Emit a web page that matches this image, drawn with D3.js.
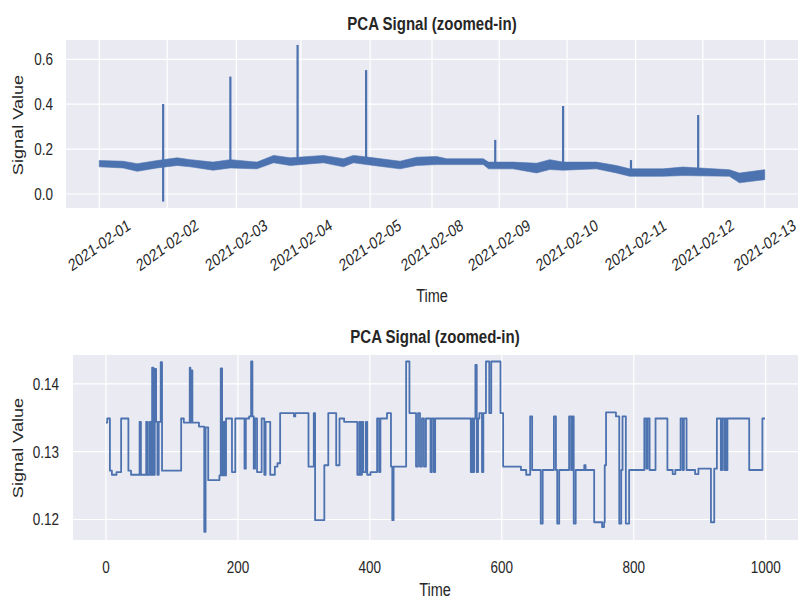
<!DOCTYPE html>
<html>
<head>
<meta charset="utf-8">
<title>PCA Signal</title>
<script src="https://cdn.jsdelivr.net/npm/d3@7"></script>
<style>
body { margin:0; background:#fff; }
svg { display:block; font-family:"Liberation Sans", Arial, sans-serif; }
.bg { fill:#eaeaf2; }
.grid line { stroke:#fff; stroke-width:1.2; }
.tick-label { fill:#262626; font-size:13.5px; }
.ax-label { fill:#262626; font-size:14.5px; }
.title { fill:#262626; font-size:15px; font-weight:bold; }
</style>
</head>
<body>
<svg id="chart" width="798" height="599"></svg>
<script>
// ---- top panel : whole period (sample index, dates on ticks)
var dayTicks = [0, 102, 206, 303, 407, 500, 601, 703, 806, 907, 1000];
var dayLabels = ["2021-02-01","2021-02-02","2021-02-03","2021-02-04","2021-02-05",
                 "2021-02-08","2021-02-09","2021-02-10","2021-02-11","2021-02-12","2021-02-13"];
var topYTicks = [0, 0.2, 0.4, 0.6];

// the dense signal, read as its upper / lower envelope
var bandX  = [0, 36, 57, 87, 117, 137, 171, 197, 237, 262, 287, 337, 367, 382, 412, 452, 477,
              507, 522, 577, 585, 622, 657, 677, 697, 747, 777, 797, 847, 877, 947, 962, 1000];
var bandHi = [0.149, 0.146, 0.135, 0.149, 0.161, 0.153, 0.142, 0.153, 0.142, 0.172, 0.161, 0.172,
              0.157, 0.172, 0.161, 0.146, 0.164, 0.167, 0.157, 0.157, 0.142, 0.142, 0.137, 0.153,
              0.142, 0.142, 0.127, 0.112, 0.112, 0.120, 0.108, 0.093, 0.108];
var bandLo = [0.121, 0.116, 0.101, 0.116, 0.127, 0.121, 0.106, 0.116, 0.112, 0.139, 0.127, 0.139,
              0.121, 0.139, 0.127, 0.112, 0.127, 0.131, 0.131, 0.131, 0.112, 0.112, 0.094, 0.109,
              0.106, 0.112, 0.094, 0.079, 0.079, 0.082, 0.079, 0.050, 0.064];

// spikes
var spikeX   = [96, 197, 298, 401, 595, 697, 799, 900];
var spikeTop = [0.401, 0.523, 0.664, 0.552, 0.241, 0.392, 0.151, 0.352];
var spikeBot = [-0.034, 0.13, 0.14, 0.14, 0.125, 0.12, 0.10, 0.095];

// ---- bottom panel : first 1000 samples (step changes)
var stepIdx = [0, 2, 6, 9, 16, 23, 34, 38, 51, 53, 61, 63, 66, 68, 70, 72, 74, 76, 78, 80, 83, 85,
  114, 118, 127, 128, 130, 131, 141, 149, 151, 155, 172, 174, 176, 178, 180, 182, 191, 196, 210, 212,
  217, 220, 222, 224, 226, 229, 236, 240, 242, 249, 256, 260, 264, 285, 287, 307, 315, 317, 331, 337,
  349, 354, 361, 381, 384, 386, 388, 390, 394, 396, 401, 411, 414, 416, 426, 432, 434, 436, 455, 460,
  470, 473, 476, 479, 482, 485, 492, 494, 497, 499, 553, 555, 556, 558, 560, 562, 564, 566, 570, 572,
  576, 581, 584, 598, 602, 629, 637, 643, 646, 659, 662, 679, 682, 684, 687, 702, 705, 707, 709, 712,
  725, 727, 740, 752, 755, 756, 758, 773, 778, 781, 783, 788, 793, 816, 819, 821, 824, 833, 851, 859,
  863, 871, 874, 876, 880, 893, 898, 917, 922, 926, 932, 934, 937, 939, 940, 942, 975, 995];
var stepVal = [0.1343, 0.1349, 0.1272, 0.1266, 0.1270, 0.1349, 0.1272, 0.1266, 0.1344, 0.1266, 0.1344,
  0.1266, 0.1344, 0.1266, 0.1424, 0.1266, 0.1422, 0.1344, 0.1266, 0.1344, 0.1432, 0.1272,
  0.1349, 0.1343, 0.1424, 0.1343, 0.1420, 0.1343, 0.1337, 0.1182, 0.1336, 0.1258, 0.1265, 0.1423,
  0.1265, 0.1344, 0.1265, 0.1349, 0.1270, 0.1349, 0.1275, 0.1349,
  0.1352, 0.1433, 0.1352, 0.1275, 0.1349, 0.1270, 0.1349, 0.1266, 0.1344, 0.1266, 0.1278, 0.1283,
  0.1357, 0.1352, 0.1357, 0.1278, 0.1357, 0.1199, 0.1280, 0.1357,
  0.1280, 0.1349, 0.1344, 0.1266, 0.1344, 0.1266, 0.1344, 0.1270, 0.1344, 0.1266, 0.1270, 0.1349,
  0.1270, 0.1349, 0.1357, 0.1278, 0.1199, 0.1278, 0.1433, 0.1357,
  0.1278, 0.1357, 0.1278, 0.1349, 0.1278, 0.1349, 0.1270, 0.1349, 0.1270, 0.1349, 0.1270, 0.1349,
  0.1270, 0.1349, 0.1428, 0.1270, 0.1349, 0.1357, 0.1270, 0.1357,
  0.1433, 0.1357, 0.1433, 0.1357, 0.1278, 0.1273, 0.1266, 0.1352, 0.1273, 0.1194, 0.1273, 0.1352,
  0.1273, 0.1194, 0.1273, 0.1352, 0.1273, 0.1352, 0.1194, 0.1273,
  0.1280, 0.1273, 0.1196, 0.1189, 0.1196, 0.1280, 0.1358, 0.1352, 0.1194, 0.1273, 0.1352, 0.1194,
  0.1273, 0.1349, 0.1275, 0.1349, 0.1273, 0.1349, 0.1273, 0.1267,
  0.1273, 0.1349, 0.1273, 0.1349, 0.1273, 0.1267, 0.1275, 0.1196, 0.1275, 0.1349, 0.1273, 0.1349,
  0.1273, 0.1349, 0.1273, 0.1349, 0.1273, 0.1349];
var lastIdx = 999;
var botXTicks = [0, 200, 400, 600, 800, 1000];
var botYTicks = [0.12, 0.13, 0.14];

var blue = "#4c72b0";
var SY = 1.25;   // the picture is stretched a bit vertically, text too

var svg = d3.select("#chart");

function txt(g, x, y, s, cls, anchor, rot, dy) {
  return g.append("text")
    .attr("class", cls)
    .attr("text-anchor", anchor)
    .attr("dy", dy || 0)
    .attr("transform", "translate(" + x + "," + y + ") scale(1," + SY + ") rotate(" + (rot || 0) + ")")
    .text(s);
}

// ================= TOP =================
var t = {left: 66, right: 798, top: 40, bottom: 208};
var xT = d3.scaleLinear().domain([-50, 1050]).range([t.left, t.right]);
var yT = d3.scaleLinear().domain([-0.0624, 0.686]).range([t.bottom, t.top]);

var gT = svg.append("g");
gT.append("rect").attr("class", "bg")
  .attr("x", t.left).attr("y", t.top)
  .attr("width", t.right - t.left).attr("height", t.bottom - t.top);

var gridT = gT.append("g").attr("class", "grid");
gridT.selectAll(".gx").data(dayTicks).enter().append("line")
  .attr("x1", function(d){ return xT(d); }).attr("x2", function(d){ return xT(d); })
  .attr("y1", t.top).attr("y2", t.bottom);
gridT.selectAll(".gy").data(topYTicks).enter().append("line")
  .attr("y1", function(d){ return yT(d); }).attr("y2", function(d){ return yT(d); })
  .attr("x1", t.left).attr("x2", t.right);

var band = bandX.map(function(x, i){ return [x, bandLo[i], bandHi[i]]; });
gT.append("path")
  .attr("d", d3.area()
     .x(function(d){ return xT(d[0]); })
     .y0(function(d){ return yT(d[1]); })
     .y1(function(d){ return yT(d[2]); })(band))
  .attr("fill", blue).attr("stroke", blue).attr("stroke-width", 0.6).attr("stroke-linejoin", "round");

gT.selectAll(".spike").data(spikeX).enter().append("line")
  .attr("x1", function(d){ return xT(d); }).attr("x2", function(d){ return xT(d); })
  .attr("y1", function(d, i){ return yT(spikeBot[i]); })
  .attr("y2", function(d, i){ return yT(spikeTop[i]); })
  .attr("stroke", blue).attr("stroke-width", 2.2);

topYTicks.forEach(function(v){
  txt(gT, t.left - 13, yT(v), d3.format(".1f")(v), "tick-label", "end", 0, "0.35em");
});
dayTicks.forEach(function(v, i){
  txt(gT, xT(v), 245, dayLabels[i], "tick-label", "middle", -30, "0.35em");
});
txt(gT, 432, 30, "PCA Signal (zoomed-in)", "title", "middle");
txt(gT, 432, 302, "Time", "ax-label", "middle");
txt(gT, 18, 125, "Signal Value", "ax-label", "middle", -90, "0.35em");

// ================= BOTTOM =================
var b = {left: 73, right: 798, top: 355, bottom: 540};
var xB = d3.scaleLinear().domain([-49.95, 1048.95]).range([b.left, b.right]);
var yB = d3.scaleLinear().domain([0.11698, 0.14426]).range([b.bottom, b.top]);

var gB = svg.append("g");
gB.append("rect").attr("class", "bg")
  .attr("x", b.left).attr("y", b.top)
  .attr("width", b.right - b.left).attr("height", b.bottom - b.top);

var gridB = gB.append("g").attr("class", "grid");
gridB.selectAll(".gx").data(botXTicks).enter().append("line")
  .attr("x1", function(d){ return xB(d); }).attr("x2", function(d){ return xB(d); })
  .attr("y1", b.top).attr("y2", b.bottom);
gridB.selectAll(".gy").data(botYTicks).enter().append("line")
  .attr("y1", function(d){ return yB(d); }).attr("y2", function(d){ return yB(d); })
  .attr("x1", b.left).attr("x2", b.right);

var steps = stepIdx.map(function(x, i){ return [x, stepVal[i]]; });
steps.push([lastIdx, stepVal[stepVal.length - 1]]);
gB.append("path")
  .attr("d", d3.line()
     .curve(d3.curveStepAfter)
     .x(function(d){ return xB(d[0]); })
     .y(function(d){ return yB(d[1]); })(steps))
  .attr("fill", "none").attr("stroke", blue).attr("stroke-width", 1.8)
  .attr("stroke-linejoin", "round");

botYTicks.forEach(function(v){
  txt(gB, b.left - 14, yB(v), d3.format(".2f")(v), "tick-label", "end", 0, "0.35em");
});
botXTicks.forEach(function(v){
  txt(gB, xB(v), 573, String(v), "tick-label", "middle");
});
txt(gB, 435, 343, "PCA Signal (zoomed-in)", "title", "middle");
txt(gB, 435, 596, "Time", "ax-label", "middle");
txt(gB, 18, 448, "Signal Value", "ax-label", "middle", -90, "0.35em");
</script>
</body>
</html>
